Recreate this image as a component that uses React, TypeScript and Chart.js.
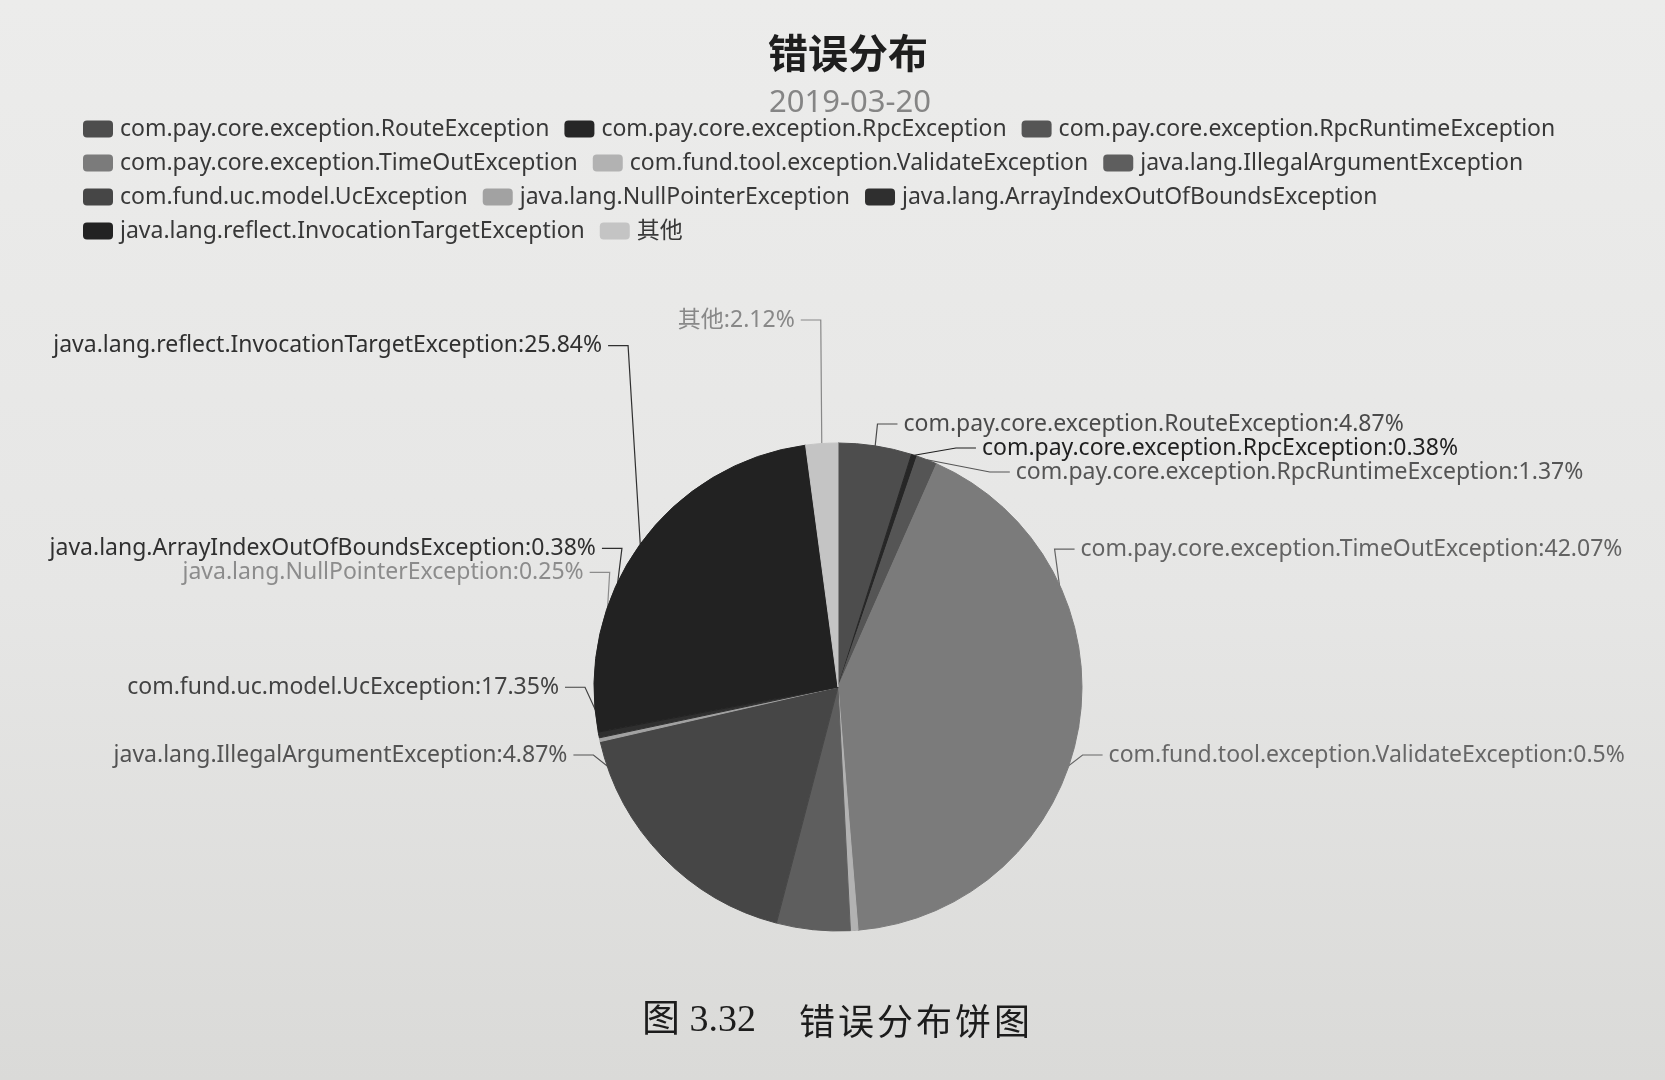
import React, { useEffect, useRef } from 'react';
import { Chart, registerables } from 'chart.js';

Chart.register(...registerables);

// ---------- data ----------
const TITLE = '错误分布';
const SUBTITLE = '2019-03-20';
const CAPTION_LEFT = '图 3.32';
const CAPTION_RIGHT = '错误分布饼图';

const CATEGORIES = [
  'com.pay.core.exception.RouteException',
  'com.pay.core.exception.RpcException',
  'com.pay.core.exception.RpcRuntimeException',
  'com.pay.core.exception.TimeOutException',
  'com.fund.tool.exception.ValidateException',
  'java.lang.IllegalArgumentException',
  'com.fund.uc.model.UcException',
  'java.lang.NullPointerException',
  'java.lang.ArrayIndexOutOfBoundsException',
  'java.lang.reflect.InvocationTargetException',
  '其他',
];

const PERCENTS = [4.87, 0.38, 1.37, 42.07, 0.5, 4.87, 17.35, 0.25, 0.38, 25.84, 2.12];

// ---------- styles ----------
const SLICE_COLORS = [
  '#4d4d4d', '#262626', '#555555', '#7b7b7b', '#b2b2b2', '#5e5e5e',
  '#464646', '#a2a2a2', '#2f2f2f', '#222222', '#c4c4c4',
];
const LABEL_COLORS = [
  '#4a4a4a', '#1f1f1f', '#555555', '#636363', '#676767', '#525252',
  '#424242', '#8c8c8c', '#303030', '#303030', '#888888',
];

const SANS = '"Noto Sans", "Noto Sans CJK SC", sans-serif';
const W = 1665;
const H = 1080;
const PIE = { cx: 838, cy: 687, r: 244 };
const LBL = { len: 15, len2: 20, gap: 6, h: 24, viewTop: 320, viewBottom: 779, font: `23px ${SANS}` };
const LEGEND = { x: 83, top: 129, rowH: 34, maxW: 1560, iconW: 30, iconH: 17, textGap: 7, itemGap: 15, font: `23px ${SANS}`, color: '#383838' };

type LabelItem = {
  i: number; x: number; y: number; h: number; x1: number; y1: number; side: number; text: string;
};

function layoutLabels(chart: any): LabelItem[] {
  const meta = chart.getDatasetMeta(0);
  const items: LabelItem[] = [];
  let cx = 0, cy = 0, r = 0;
  meta.data.forEach((arc: any, i: number) => {
    const p = arc.getProps(['x', 'y', 'startAngle', 'endAngle', 'outerRadius'], true);
    cx = p.x; cy = p.y; r = p.outerRadius;
    const mid = (p.startAngle + p.endAngle) / 2;
    const dx = Math.cos(mid);
    const dy = Math.sin(mid);
    const x1 = cx + r * dx;
    const y1 = cy + r * dy;
    const x2 = x1 + dx * LBL.len;
    const y2 = y1 + dy * LBL.len;
    const dir = dx < 0 ? -1 : 1;
    const x3 = x2 + dir * LBL.len2;
    const tx = x3 + dir * LBL.gap;
    items.push({
      i, x: tx, y: y2, h: LBL.h, x1, y1, side: tx < cx ? -1 : 1,
      text: `${CATEGORIES[i]}:${PERCENTS[i]}%`,
    });
  });

  const adjust = (list: LabelItem[], dir: number) => {
    list.sort((a, b) => a.y - b.y);
    const shiftUp = (end: number, delta: number) => {
      for (let j = end; j >= 0; j--) {
        list[j].y = Math.max(LBL.viewTop, list[j].y - delta);
        if (j > 0 && list[j].y > list[j - 1].y + list[j - 1].h) break;
      }
    };
    const shiftDown = (start: number, end: number, delta: number) => {
      for (let j = start; j < end; j++) {
        list[j].y += delta;
        if (j > start && j + 1 < end && list[j + 1].y > list[j].y + list[j].h) {
          shiftUp(j, delta / 2);
          return;
        }
      }
      shiftUp(end - 1, delta / 2);
    };
    let lastY = 0;
    for (let i = 0; i < list.length; i++) {
      const delta = list[i].y - lastY;
      if (delta < 0) shiftDown(i, list.length, -delta);
      lastY = list[i].y + list[i].h;
    }
    if (LBL.viewBottom - lastY < 0) shiftUp(list.length - 1, lastY - LBL.viewBottom);

    const changeX = (sub: LabelItem[], isDown: boolean) => {
      let last = isDown ? Number.MAX_VALUE : 0;
      for (const l of sub) {
        const dY = Math.abs(l.y - cy);
        const R = r + LBL.len + LBL.len2;
        let dX = dY < r + LBL.len ? Math.sqrt(R * R - dY * dY) : Math.abs(l.x - cx);
        if (isDown && dX >= last) dX = last - 10;
        if (!isDown && dX <= last) dX = last + 10;
        l.x = cx + dX * dir;
        last = dX;
      }
    };
    changeX(list.filter((l) => l.y < cy), false);
    changeX(list.filter((l) => l.y >= cy), true);
  };

  adjust(items.filter((l) => l.side < 0), -1);
  adjust(items.filter((l) => l.side > 0), 1);
  return items;
}

function roundRect(ctx: CanvasRenderingContext2D, x: number, y: number, w: number, h: number, rad: number) {
  ctx.beginPath();
  ctx.moveTo(x + rad, y);
  ctx.lineTo(x + w - rad, y);
  ctx.quadraticCurveTo(x + w, y, x + w, y + rad);
  ctx.lineTo(x + w, y + h - rad);
  ctx.quadraticCurveTo(x + w, y + h, x + w - rad, y + h);
  ctx.lineTo(x + rad, y + h);
  ctx.quadraticCurveTo(x, y + h, x, y + h - rad);
  ctx.lineTo(x, y + rad);
  ctx.quadraticCurveTo(x, y, x + rad, y);
  ctx.closePath();
}

const bookPiePlugin = {
  id: 'bookPie',
  beforeDatasetsDraw(chart: any) {
    const ctx: CanvasRenderingContext2D = chart.ctx;
    const labels = layoutLabels(chart);
    ctx.save();
    ctx.lineWidth = 1.2;
    for (const l of labels) {
      const p2x = l.x - l.side * LBL.gap;
      const p1x = p2x - l.side * LBL.len2;
      ctx.strokeStyle = LABEL_COLORS[l.i];
      ctx.beginPath();
      ctx.moveTo(l.x1, l.y1);
      ctx.lineTo(p1x, l.y);
      ctx.lineTo(p2x, l.y);
      ctx.stroke();
    }
    ctx.restore();
  },
  afterDatasetsDraw(chart: any) {
    const ctx: CanvasRenderingContext2D = chart.ctx;
    const labels = layoutLabels(chart);
    ctx.save();
    ctx.font = LBL.font;
    ctx.textBaseline = 'middle';
    for (const l of labels) {
      ctx.fillStyle = LABEL_COLORS[l.i];
      ctx.textAlign = l.side < 0 ? 'right' : 'left';
      ctx.fillText(l.text, l.x, l.y);
    }
    ctx.restore();
  },
  afterDraw(chart: any) {
    const ctx: CanvasRenderingContext2D = chart.ctx;
    ctx.save();
    // title + subtitle
    ctx.textAlign = 'center';
    ctx.textBaseline = 'middle';
    ctx.fillStyle = '#1e1e1e';
    ctx.font = `bold 40px "Noto Sans CJK SC", ${SANS}`;
    ctx.fillText(TITLE, 848, 53);
    ctx.fillStyle = '#858585';
    ctx.font = `31px ${SANS}`;
    ctx.fillText(SUBTITLE, 850, 103);

    // legend
    ctx.font = LEGEND.font;
    ctx.textAlign = 'left';
    let x = LEGEND.x;
    let row = 0;
    CATEGORIES.forEach((name, i) => {
      const tw = ctx.measureText(name).width;
      const itemW = LEGEND.iconW + LEGEND.textGap + tw;
      if (x > LEGEND.x && x + itemW - LEGEND.x > LEGEND.maxW) {
        row += 1;
        x = LEGEND.x;
      }
      const y = LEGEND.top + row * LEGEND.rowH;
      ctx.fillStyle = SLICE_COLORS[i];
      roundRect(ctx, x, y - LEGEND.iconH / 2, LEGEND.iconW, LEGEND.iconH, 4);
      ctx.fill();
      ctx.fillStyle = LEGEND.color;
      ctx.fillText(name, x + LEGEND.iconW + LEGEND.textGap, y);
      x += itemW + LEGEND.itemGap;
    });

    // book caption
    ctx.fillStyle = '#1c1c1c';
    ctx.font = `38px "Liberation Serif", "Noto Sans CJK SC", serif`;
    ctx.textAlign = 'right';
    ctx.fillText(CAPTION_LEFT, 756, 1021);
    ctx.textAlign = 'left';
    ctx.font = `36px "Noto Sans CJK SC", serif`;
    (ctx as any).letterSpacing = '3px';
    ctx.fillText(CAPTION_RIGHT, 799, 1021);
    ctx.restore();
  },
};

export default function App() {
  const canvasRef = useRef<HTMLCanvasElement | null>(null);

  useEffect(() => {
    if (!canvasRef.current) return;
    const pad = 300;
    const chart = new Chart(canvasRef.current, {
      type: 'pie',
      data: {
        labels: CATEGORIES,
        datasets: [
          {
            data: PERCENTS,
            backgroundColor: SLICE_COLORS,
            borderColor: SLICE_COLORS,
            borderWidth: 1,
            radius: PIE.r,
          } as any,
        ],
      },
      options: {
        animation: false,
        responsive: true,
        maintainAspectRatio: false,
        events: [],
        layout: {
          padding: {
            left: PIE.cx - pad,
            right: W - (PIE.cx + pad),
            top: PIE.cy - pad,
            bottom: H - (PIE.cy + pad),
          },
        },
        plugins: {
          legend: { display: false },
          tooltip: { enabled: false },
          title: { display: false },
        },
      },
      plugins: [bookPiePlugin],
    });
    return () => chart.destroy();
  }, []);

  return (
    <div
      style={{
        position: 'absolute',
        left: 0,
        top: 0,
        width: W,
        height: H,
        background: 'linear-gradient(180deg, #ececeb 0%, #e6e6e5 55%, #dadad8 100%)',
        overflow: 'hidden',
      }}
    >
      <canvas ref={canvasRef} />
    </div>
  );
}
